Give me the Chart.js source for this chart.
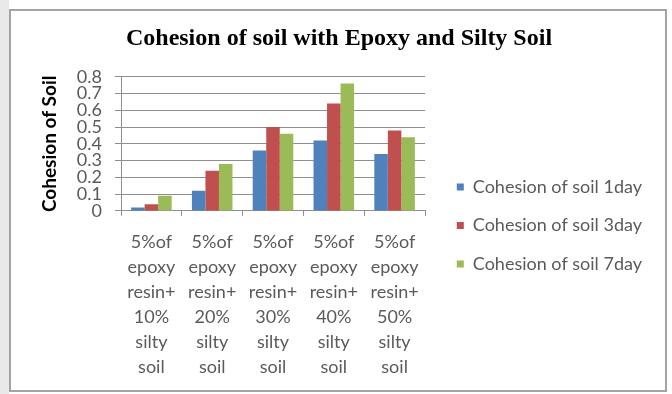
<!DOCTYPE html>
<html>
<head>
<meta charset="utf-8">
<script src="https://cdn.jsdelivr.net/npm/chart.js@4.4.1/dist/chart.umd.min.js"></script>
<style>
  html, body { margin: 0; padding: 0; background: #ffffff; }
  #wrap { position: relative; width: 672px; height: 394px; overflow: hidden; }
  #strip { position: absolute; left: 0; top: 0; width: 9px; height: 394px; background: #e9e9e9; }
  #frame { position: absolute; left: 9px; top: 9px; width: 654px; height: 379px;
           border: 2px solid #a3a3a3; box-sizing: content-box; }
  #chart { position: absolute; left: 0; top: 0; }
</style>
</head>
<body>
<div id="wrap">
  <div id="strip"></div>
  <div id="frame"></div>
  <canvas id="chart" width="672" height="394"></canvas>
</div>
<script>
// Mix designations (one multi-line label per group)
const categories = [
  ["5%of", "epoxy", "resin+", "10%", "silty", "soil"],
  ["5%of", "epoxy", "resin+", "20%", "silty", "soil"],
  ["5%of", "epoxy", "resin+", "30%", "silty", "soil"],
  ["5%of", "epoxy", "resin+", "40%", "silty", "soil"],
  ["5%of", "epoxy", "resin+", "50%", "silty", "soil"]
];

// Cohesion after curing period
const cohesion1day = [0.02, 0.12, 0.36, 0.42, 0.34];
const cohesion3day = [0.04, 0.24, 0.50, 0.64, 0.48];
const cohesion7day = [0.09, 0.28, 0.46, 0.76, 0.44];

const seriesNames = ["Cohesion of soil 1day", "Cohesion of soil 3day", "Cohesion of soil 7day"];
const seriesColors = ["#4F81BD", "#C0504D", "#9BBB59"];

const titleText = "Cohesion of soil with Epoxy and Silty Soil";
const yTitleText = "Cohesion of Soil";

const sans = "Lato, 'Liberation Sans', sans-serif";
const grey = "#5a5a5a";
const gridColor = "#8e8e8e";

const padRight = 20;
const plotRight = 425;

const seriesValues = [cohesion1day, cohesion3day, cohesion7day];

new Chart(document.getElementById("chart"), {
  type: "bar",
  data: {
    labels: categories,
    datasets: seriesValues.map((vals, i) => ({
      label: seriesNames[i],
      data: vals,
      backgroundColor: seriesColors[i],
      borderWidth: 0,
      categoryPercentage: 0.667,
      barPercentage: 1.0
    }))
  },
  options: {
    responsive: false,
    animation: false,
    devicePixelRatio: 1,
    layout: { padding: { top: 12, left: 26, right: padRight, bottom: 1 } },
    plugins: {
      title: {
        display: true,
        text: titleText,
        color: "#000000",
        font: { family: "'Liberation Serif', 'Times New Roman', serif", size: 24, weight: "bold", lineHeight: 1.2 },
        padding: { top: 12, bottom: 24 }
      },
      legend: {
        position: "right",
        align: "center",
        maxWidth: 320,
        // empty title block keeps the entries level with the lower half of the plot
        title: { display: true, text: "", font: { size: 10, lineHeight: 1.2 }, padding: { top: 17, bottom: 17 } },
        labels: {
          boxWidth: 7,
          boxHeight: 7,
          padding: 20.5,
          color: grey,
          font: { family: sans, size: 18 }
        }
      },
      tooltip: { enabled: false }
    },
    scales: {
      x: {
        grid: {
          display: true,
          drawOnChartArea: false,
          drawTicks: true,
          tickLength: 5,
          color: gridColor
        },
        border: { display: true, color: gridColor },
        ticks: {
          color: grey,
          padding: 13.5,
          maxRotation: 0,
          autoSkip: false,
          font: { family: sans, size: 18, lineHeight: 1.39 }
        }
      },
      y: {
        min: 0,
        max: 0.8,
        afterFit(scale) { scale.width = 95; },
        grid: {
          color: gridColor,
          drawTicks: true,
          tickLength: 6
        },
        border: { display: true, color: gridColor },
        ticks: {
          stepSize: 0.1,
          autoSkip: false,
          color: grey,
          padding: 13,
          font: { family: sans, size: 18, lineHeight: 1 },
          callback: (v) => (Math.round(v * 10) / 10).toString()
        },
        title: {
          display: true,
          text: yTitleText,
          color: "#000000",
          padding: { top: 12.6, bottom: 0 },
          font: { family: sans, size: 19, weight: "bold", lineHeight: 1.2 }
        }
      },
      // spacer between plot and legend
      gap: {
        type: "linear",
        position: "right",
        display: true,
        afterFit(scale) {
          const lg = scale.chart.legend;
          const w = scale.chart.width - padRight - (lg ? lg.width : 0) - plotRight;
          scale.width = Math.max(0, w);
        },
        grid: { display: false },
        border: { display: false },
        ticks: { display: false }
      }
    }
  }
});
</script>
</body>
</html>
